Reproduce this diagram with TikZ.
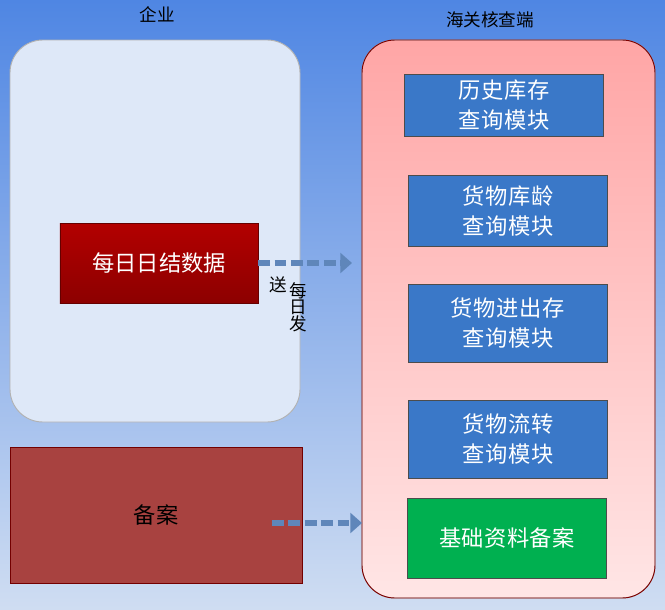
\documentclass[tikz,border=0pt]{standalone}
\usepackage{fontspec}
\setmainfont{Noto Sans CJK SC}
\XeTeXlinebreaklocale "zh"
\XeTeXlinebreakskip=0pt plus 1pt
\usetikzlibrary{positioning,arrows.meta}
\definecolor{bgtop}{HTML}{4F86E3}
\definecolor{bgbot}{HTML}{CFDDF2}
\definecolor{modblue}{HTML}{3A78C8}
\definecolor{flowblue}{HTML}{5F86BA}
\tikzset{
  panel/.style={rounded corners=28pt, draw=gray!60, line width=0.8pt},
  module/.style={draw=black!70, fill=modblue, text=white, text width=5.0cm, align=center,
    minimum width=5.97cm, font=\fontsize{19}{26}\selectfont, inner sep=2pt},
  flow/.style={line width=4.5pt, draw=flowblue, dash pattern=on 10pt off 4pt, -{Triangle[length=10pt,width=17pt]}},
  lbl/.style={font=\fontsize{15}{18}\selectfont}
}
\begin{document}
\begin{tikzpicture}[x=0.03cm,y=-0.03cm]
\shade[top color=bgtop, bottom color=bgbot] (0,0) rectangle (665,609);
\useasboundingbox (0,0) rectangle (665,609);

\node (qiye) [lbl] at (157,14) {企业};
\node (haiguan) [lbl] at (490,20) {海关核查端};

\draw[panel, fill={rgb,255:red,222;green,232;blue,248}] (10,40) rectangle (300,422);
\shade[panel, top color=red!35, bottom color=red!10] (362,40) rectangle (655,598);
\draw[rounded corners=28pt, draw=red!50!black, line width=0.8pt] (362,40) rectangle (655,598);

\node (rijie) [draw=red!40!black, top color=red!70!black, bottom color=red!55!black, text=white,
  minimum width=5.94cm, minimum height=2.4cm, font=\fontsize{19}{24}\selectfont] at (159,263) {每日日结数据};
\node (beian) [draw=red!45!black, fill={rgb,255:red,168;green,66;blue,64}, minimum width=8.76cm, minimum height=4.08cm,
  font=\fontsize{19}{24}\selectfont] at (156,515) {备案};

\node (lishi) [module, minimum height=1.86cm] at (504,105) {历史库存查询模块};
\node (kuling) [module, minimum height=2.13cm] at (508,211) {货物库龄查询模块};
\node (jinchu) [module, minimum height=2.34cm] at (508,323) {货物进出存查询模块};
\node (liuzhuan) [module, minimum height=2.34cm] at (508,439) {货物流转查询模块};
\node (jichu) [module, fill={rgb,255:red,0;green,176;blue,80}, minimum height=2.4cm] at (507,538) {基础资料备案};

\coordinate (a1) at (352,263);
\coordinate (a2) at (362,523);
\draw[flow] (rijie.east) -- (a1);
\node (song) [lbl] at (278,285) {送};
\node (meiri) [lbl, align=center] at (298,307) {每\\[-4pt]日\\[-4pt]发};
\draw[flow] (272,523) -- (a2);
\end{tikzpicture}
\end{document}
